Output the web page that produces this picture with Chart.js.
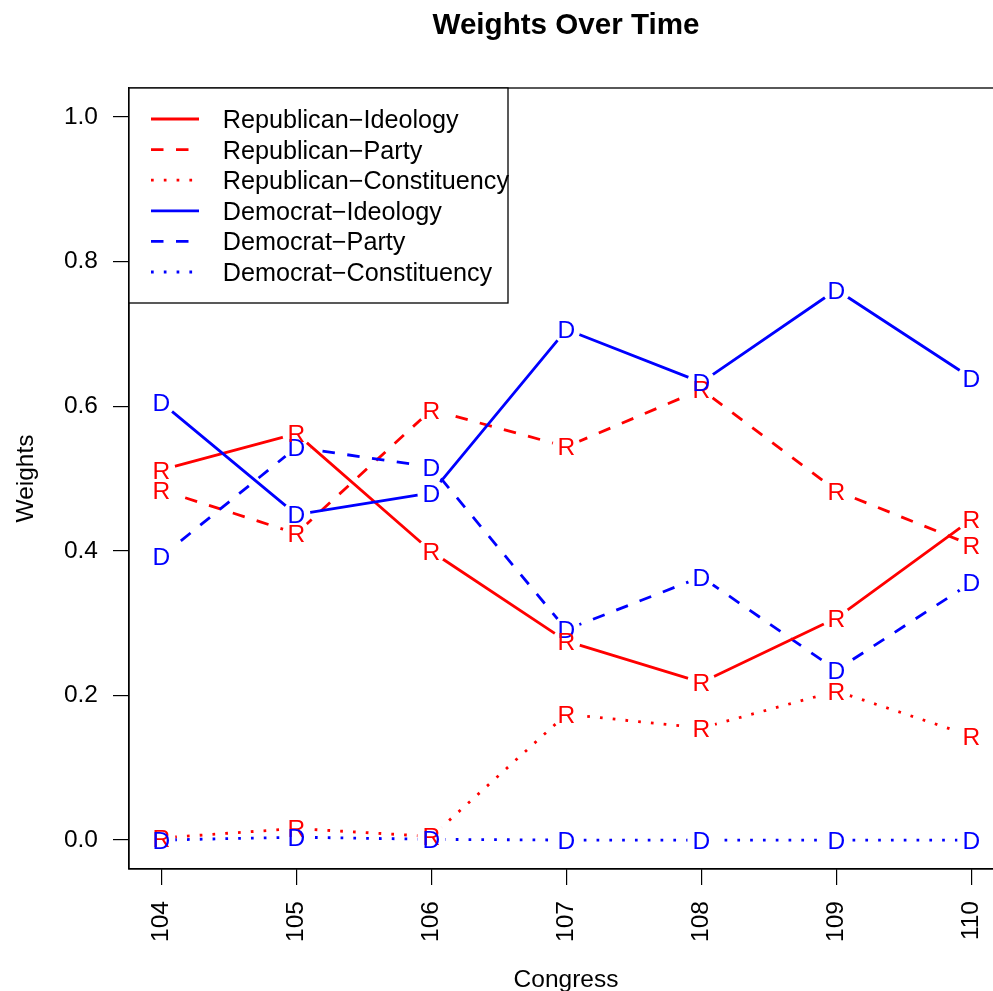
<!DOCTYPE html>
<html><head><meta charset="utf-8">
<script src="https://cdn.jsdelivr.net/npm/chart.js@4.4.0/dist/chart.umd.min.js"></script>
<style>html,body{margin:0;padding:0;background:#fff;} #wrap{width:993px;height:991px;position:relative;}</style>
</head><body><div id="wrap"><canvas id="c" width="993" height="991"></canvas></div>
<script>
// ---- data ----
const congress = [104, 105, 106, 107, 108, 109, 110];
const xTickValues = [104, 105, 106, 107, 108, 109, 110];
const yTickValues = [0, 0.2, 0.4, 0.6, 0.8, 1.0];
const repIdeology     = [0.512, 0.562, 0.399, 0.275, 0.218, 0.307, 0.443];
const repParty        = [0.484, 0.424, 0.595, 0.544, 0.623, 0.483, 0.408];
const repConstituency = [0.003, 0.016, 0.005, 0.174, 0.155, 0.206, 0.144];
const demIdeology     = [0.605, 0.450, 0.480, 0.706, 0.633, 0.761, 0.639];
const demParty        = [0.392, 0.543, 0.516, 0.291, 0.364, 0.235, 0.356];
const demConstituency = [0.000, 0.004, 0.001, 0.000, 0.000, 0.000, 0.000];
const seriesNames = ['Republican\u2212Ideology', 'Republican\u2212Party', 'Republican\u2212Constituency',
                     'Democrat\u2212Ideology', 'Democrat\u2212Party', 'Democrat\u2212Constituency'];
const seriesValues = [repIdeology, repParty, repConstituency, demIdeology, demParty, demConstituency];
const seriesLetters = ['R', 'R', 'R', 'D', 'D', 'D'];
const chartTitle = 'Weights Over Time';
const xTitle = 'Congress';
const yTitle = 'Weights';

// ---- styles ----
const RED = '#FF0000', BLUE = '#0000FF';
const colors = [RED, RED, RED, BLUE, BLUE, BLUE];
const LW = 2.8;
const DASHED = [12.5, 12.5];
const DOTTED = [2.7, 10.1];
const dashes = [[], DASHED, DOTTED, [], DASHED, DOTTED];
const drawOrder = [4, 6, 2, 3, 5, 1]; // higher = drawn earlier
const FONT = 'Liberation Sans, Arial, sans-serif';
const FS = 24.5;
const LEG_FS = 25.2;
const GAP = 14;

Chart.defaults.font.family = FONT;
Chart.defaults.color = '#000';

const datasets = seriesValues.map((vals, i) => ({
  label: seriesNames[i],
  data: congress.map((c, j) => ({ x: c, y: vals[j] })),
  borderColor: colors[i],
  backgroundColor: colors[i],
  borderWidth: LW,
  borderDash: dashes[i],
  borderCapStyle: 'butt',
  borderJoinStyle: 'round',
  pointRadius: 0,
  pointHoverRadius: 0,
  tension: 0,
  fill: false,
  order: drawOrder[i],
  clip: false
}));

const gapAndLetters = {
  id: 'gapAndLetters',
  beforeDatasetDraw(chart, args) {
    const ctx = chart.ctx;
    ctx.save();
    ctx.beginPath();
    ctx.rect(0, 0, chart.width, chart.height);
    args.meta.data.forEach(p => {
      ctx.moveTo(p.x + GAP, p.y);
      ctx.arc(p.x, p.y, GAP, 0, Math.PI * 2);
    });
    ctx.clip('evenodd');
  },
  afterDatasetDraw(chart, args) {
    const ctx = chart.ctx;
    ctx.restore();
    ctx.save();
    ctx.font = FS + 'px ' + FONT;
    ctx.textAlign = 'center';
    ctx.textBaseline = 'alphabetic';
    ctx.fillStyle = colors[args.index];
    args.meta.data.forEach(p => {
      ctx.fillText(seriesLetters[args.index], p.x, p.y + 0.358 * FS);
    });
    ctx.restore();
  }
};

const frameAndText = {
  id: 'frameAndText',
  afterDraw(chart) {
    const ctx = chart.ctx;
    const a = chart.chartArea;
    ctx.save();
    // plot box (right edge lies beyond the canvas, as in the reference)
    ctx.strokeStyle = '#000';
    ctx.lineWidth = 1.3;
    ctx.strokeRect(a.left, a.top, a.right - a.left + 12, a.bottom - a.top);
    // title
    ctx.fillStyle = '#000';
    ctx.textAlign = 'center';
    ctx.textBaseline = 'alphabetic';
    ctx.font = 'bold 29.6px ' + FONT;
    const cx = a.left + 437;
    ctx.fillText(chartTitle, cx, 34);
    // x title
    ctx.font = FS + 'px ' + FONT;
    ctx.fillText(xTitle, cx, 987);
    // y title
    ctx.save();
    ctx.translate(33, (a.top + a.bottom) / 2);
    ctx.rotate(-Math.PI / 2);
    ctx.fillText(yTitle, 0, 0);
    ctx.restore();
    // legend
    const lx = a.left, ly = a.top, lw = 379, lh = 215;
    ctx.fillStyle = '#fff';
    ctx.fillRect(lx, ly, lw, lh);
    ctx.strokeRect(lx, ly, lw, lh);
    ctx.font = LEG_FS + 'px ' + FONT;
    seriesNames.forEach((name, i) => {
      const y = 119 + i * 30.6;
      ctx.beginPath();
      ctx.strokeStyle = colors[i];
      ctx.lineWidth = LW;
      ctx.setLineDash(dashes[i]);
      ctx.moveTo(151, y);
      ctx.lineTo(199, y);
      ctx.stroke();
      ctx.setLineDash([]);
      ctx.fillStyle = '#000';
      ctx.textAlign = 'left';
      ctx.fillText(name, 222.7, y + 0.358 * LEG_FS);
    });
    ctx.restore();
  }
};

new Chart(document.getElementById('c'), {
  type: 'line',
  data: { datasets },
  options: {
    responsive: false,
    devicePixelRatio: 1,
    animation: false,
    events: [],
    layout: { padding: { top: 88, left: 0, right: 0, bottom: 0 } },
    plugins: { legend: { display: false }, title: { display: false }, tooltip: { enabled: false } },
    scales: {
      x: {
        type: 'linear',
        position: 'bottom',
        min: 103.76,
        max: 110.16,
        afterBuildTicks(s) { s.ticks = xTickValues.map(v => ({ value: v })); },
        afterFit(s) { s.height = 122; s.paddingLeft = 0; s.paddingRight = 0; },
        ticks: {
          autoSkip: false, minRotation: 90, maxRotation: 90, padding: 16,
          font: { size: FS }, color: '#000',
          callback: v => String(v)
        },
        grid: { display: true, drawOnChartArea: false, drawTicks: true, tickLength: 16, color: '#000', tickColor: '#000', tickWidth: 1.2, lineWidth: 1.2 },
        border: { display: true, color: '#000', width: 1.3 }
      },
      y: {
        type: 'linear',
        position: 'left',
        min: -0.04,
        max: 1.04,
        afterBuildTicks(s) { s.ticks = yTickValues.map(v => ({ value: v })); },
        afterFit(s) { s.width = 129; s.paddingTop = 0; s.paddingBottom = 0; },
        ticks: {
          padding: 15, font: { size: FS }, color: '#000',
          callback: v => Number(v).toFixed(1)
        },
        grid: { display: true, drawOnChartArea: false, drawTicks: true, tickLength: 16, color: '#000', tickColor: '#000', tickWidth: 1.2, lineWidth: 1.2 },
        border: { display: true, color: '#000', width: 1.3 }
      }
    }
  },
  plugins: [gapAndLetters, frameAndText]
});
</script>
</body></html>
